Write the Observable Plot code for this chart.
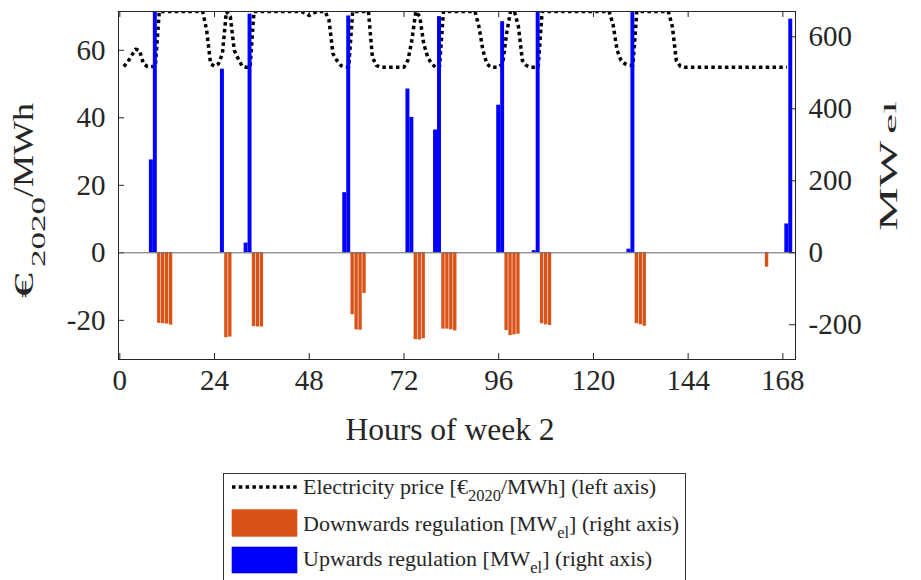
<!DOCTYPE html>
<html><head><meta charset="utf-8">
<script src="https://cdn.jsdelivr.net/npm/d3@7"></script>
<script src="https://cdn.jsdelivr.net/npm/@observablehq/plot@0.6"></script>
<style>
body{margin:0;background:#fff;}
#wrap{position:relative;width:921px;height:580px;overflow:hidden;background:#fff;}
#wrap svg{position:absolute;left:0;top:0;}
</style></head><body><div id="wrap"></div>
<script>
// ---------- data ----------
const xTicks = [0, 24, 48, 72, 96, 120, 144, 168];
const leftTicks = [-20, 0, 20, 40, 60];
const rightTicks = [-200, 0, 200, 400, 600];

const priceHours = d3.range(1, 170);
const priceValues = [
  55.2,56.5,58.5,60.3,60.0,56.0,55.2,55.2,55.2,            // h1-9
  71.5,71.5,71.5,71.5,71.5,71.5,71.5,71.5,71.5,71.5,71.5,71.5, // h10-21
  66.0,56.0,55.3,56.0,59.0,71.5,70.0,60.0,57.5,55.3,55.0,55.0, // h22-33
  71.5,71.5,71.5,71.5,71.5,71.5,71.5,71.5,71.5,71.5,71.5,71.5,71.5, // h34-46
  71.0,70.3,71.0,71.5,71.5,71.5,                             // h47-52
  69.0,59.0,57.0,55.5,55.0,55.0,                             // h53-58
  71.5,71.5,71.5,71.5,71.5,                                  // h59-63
  58.0,55.5,55.0,55.0,55.0,55.0,55.0,55.0,55.0,57.0,63.0,71.5,70.0,62.0,58.0,56.0,55.0,55.0, // h64-81
  71.5,71.5,71.5,71.5,71.5,71.5,71.5,71.5,71.5,              // h82-90
  67.0,60.0,56.0,55.0,55.0,55.0,56.0,65.0,71.5,71.5,67.0,57.0,55.5,55.0,55.0,55.0, // h91-106
  71.5,71.5,71.5,71.5,71.5,71.5,71.5,71.5,71.5,71.5,71.5,71.5,71.5,71.5,71.5,71.5,71.5,71.5, // h107-124
  67.5,60.0,57.0,56.0,55.5,55.5,                             // h125-130
  71.5,71.5,71.5,71.5,71.5,71.5,71.5,71.5,71.5,              // h131-139
  67.0,57.0,55.3,                                            // h140-142
  55,55,55,55,55,55,55,55,55,55,55,55,55,55,55,55,55,55,55,55,55,55,55,55,55,55,55 // h143-169
];

const upHours  = [8, 9, 26, 32, 33, 57, 58, 73, 74, 80, 81, 96, 97, 105, 106, 129, 130, 169, 170];
const upValues = [258, 690, 510, 27, 663, 167, 658, 455, 376, 341, 656, 410, 642, 6, 690, 10, 690, 80, 649];

const downHours  = [10, 11, 12, 13, 27, 28, 34, 35, 36, 59, 60, 61, 62, 75, 76, 77, 82, 83, 84, 85, 98, 99, 100, 101, 107, 108, 109, 131, 132, 133, 164];
const downValues = [-196, -197, -198, -201, -236, -234, -205, -206, -206, -172, -214, -215, -113, -241, -242, -239, -212, -212, -214, -217, -216, -230, -228, -226, -197, -200, -202, -197, -200, -204, -40];

// ---------- tables ----------
const price = priceHours.map((h, i) => ({h, p: priceValues[i]}));
const up = upHours.map((h, i) => ({h, v: upValues[i]}));
const down = downHours.map((h, i) => ({h, v: downValues[i]}));

// ---------- layout ----------
const W = 921, HGT = 465;
const ML = 118, MR = 126, MT = 11, MB = 106;
const PW = W - ML - MR, PH = HGT - MT - MB;
const FONT = '"Liberation Serif", "Times New Roman", serif';
const INK = "#262626";
const ORANGE = "#D95319", BLUE = "#0000FF";
const xDomain = [-0.33, 171.2];
const fmt = d => String(d); // plain hyphen-minus like the original

const common = {
  width: W, height: HGT, marginLeft: ML, marginRight: MR, marginTop: MT, marginBottom: MB,
  style: {fontFamily: FONT, fontSize: "29px", color: INK, background: "transparent", overflow: "visible"}
};

const p1 = Plot.plot({
  ...common,
  x: {domain: xDomain},
  y: {domain: [-31.6, 71.5]},
  marks: [
    Plot.line(price, {x: "h", y: "p", stroke: "#000", strokeWidth: 3.5, strokeDasharray: "3.5,3.3", strokeLinecap: "butt", clip: true}),
    Plot.axisX(xTicks, {tickSize: 0, tickPadding: 10, label: null, fill: INK, tickFormat: fmt}),
    Plot.axisY(leftTicks, {anchor: "left", tickSize: 0, tickPadding: 13, label: null, fill: INK, tickFormat: fmt}),
    Plot.tickX(xTicks, {x: d => d, insetTop: PH - 6, stroke: INK}),
    Plot.tickX(xTicks, {x: d => d, insetBottom: PH - 6, stroke: INK}),
    Plot.tickY(leftTicks, {y: d => d, insetRight: PW - 6, stroke: INK})
  ]
});

const p2 = Plot.plot({
  ...common,
  x: {domain: xDomain, axis: null},
  y: {domain: [-296.4, 670.3]},
  marks: [
    Plot.rect(down, {x1: d => d.h - 0.5, x2: d => d.h + 0.5, y1: d => 0, y2: "v", fill: ORANGE, insetLeft: 0.3, insetRight: 0.3, clip: true}),
    Plot.rect(up, {x1: d => d.h - 0.5, x2: d => d.h + 0.5, y1: d => 0, y2: "v", fill: BLUE, clip: true}),
    Plot.ruleY([0], {stroke: "#666", strokeWidth: 1}),
    Plot.tickY(rightTicks, {y: d => d, insetLeft: PW - 6, stroke: INK}),
    Plot.axisY(rightTicks, {anchor: "right", tickSize: 0, tickPadding: 13, label: null, fill: INK, tickFormat: fmt}),
    Plot.frame({stroke: INK, strokeWidth: 1})
  ]
});

const wrap = document.getElementById("wrap");
wrap.appendChild(p1);
wrap.appendChild(p2);

// ---------- labels & legend (text overlay) ----------
const ns = "http://www.w3.org/2000/svg";
const ov = d3.select(wrap).append("svg").attr("xmlns", ns).attr("width", W).attr("height", 580)
  .style("font-family", FONT).style("fill", INK);

// x label
ov.append("text").attr("x", 450).attr("y", 440).attr("text-anchor", "middle")
  .attr("font-size", 31.5).text("Hours of week 2");

// rotated label pieces: [text, baselineX, startY(bottom), length, fontSize]
function vpiece(str, bx, y0, len, fs) {
  ov.append("text").attr("transform", `translate(${bx},${y0}) rotate(-90)`)
    .attr("font-size", fs).attr("textLength", len).attr("lengthAdjust", "spacingAndGlyphs")
    .text(str);
}
// left label  €_2020/MWh
vpiece("€", 33, 298, 25, 27);
vpiece("2020", 45, 267, 70, 18);
vpiece("/MWh", 33, 197, 94, 29);
// right label MW_el
vpiece("MW", 897, 231, 90, 26);
vpiece("el", 896, 134, 33, 17.5);

// legend
const lg = ov.append("g");
lg.append("rect").attr("x", 223.5).attr("y", 473.5).attr("width", 462).attr("height", 130)
  .attr("fill", "#fff").attr("stroke", "#333").attr("stroke-width", 1);
lg.append("line").attr("x1", 232).attr("x2", 297).attr("y1", 487).attr("y2", 487)
  .attr("stroke", "#000").attr("stroke-width", 3.5).attr("stroke-dasharray", "3.5,3.3");
lg.append("rect").attr("x", 231.7).attr("y", 509.3).attr("width", 65.6).attr("height", 27.4).attr("fill", ORANGE);
lg.append("rect").attr("x", 231.7).attr("y", 546.7).attr("width", 65.6).attr("height", 26.6).attr("fill", BLUE);

const t1 = lg.append("text").attr("x", 303).attr("y", 494).attr("font-size", 22);
t1.append("tspan").text("Electricity price [€");
t1.append("tspan").attr("dy", 7).attr("font-size", 16.5).text("2020");
t1.append("tspan").attr("dy", -7).text("/MWh] (left axis)");

const t2 = lg.append("text").attr("x", 303).attr("y", 531).attr("font-size", 22);
t2.append("tspan").text("Downwards regulation [MW");
t2.append("tspan").attr("dy", 7).attr("font-size", 16.5).text("el");
t2.append("tspan").attr("dy", -7).text("] (right axis)");

const t3 = lg.append("text").attr("x", 303).attr("y", 566).attr("font-size", 22);
t3.append("tspan").text("Upwards regulation [MW");
t3.append("tspan").attr("dy", 7).attr("font-size", 16.5).text("el");
t3.append("tspan").attr("dy", -7).text("] (right axis)");
</script></body></html>
